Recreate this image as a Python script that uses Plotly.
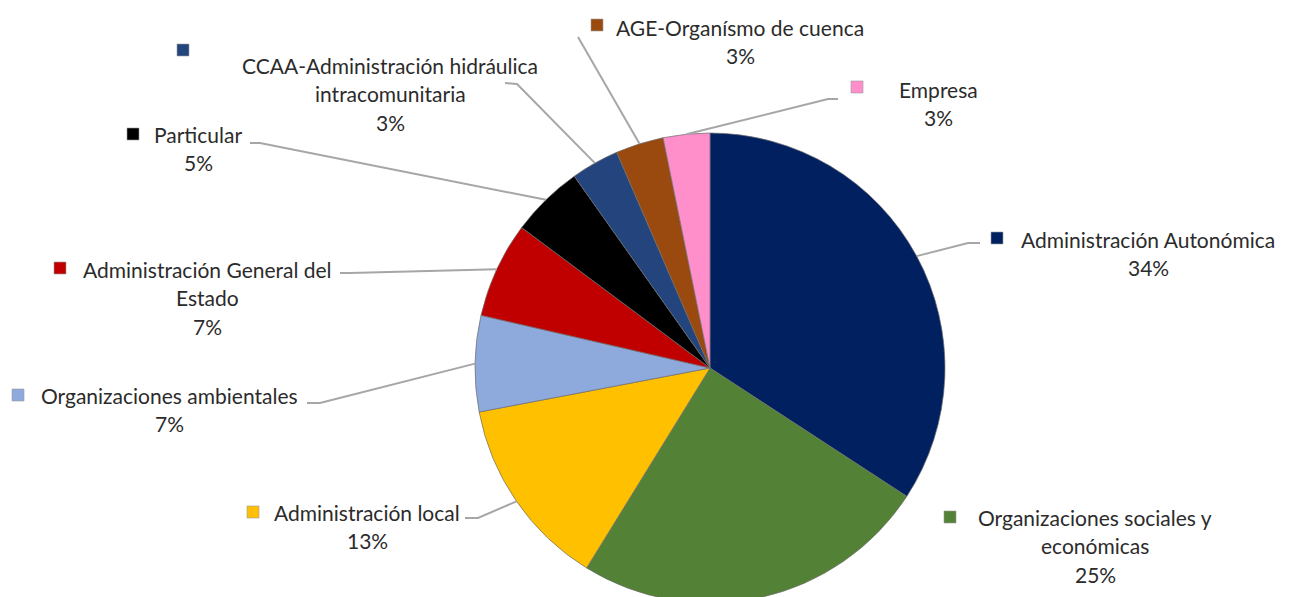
import math
import plotly.graph_objects as go

W, H = 1289, 597
OFF = 8  # page body margin: the figure is drawn 8px right/down of the window corner

# data (clockwise from 12 o'clock)
names = ["Administración Autonómica", "Organizaciones sociales y económicas",
         "Administración local", "Organizaciones ambientales",
         "Administración General del Estado", "Particular",
         "CCAA-Administración hidráulica intracomunitaria",
         "AGE-Organísmo de cuenca", "Empresa"]
values = [34.2, 24.6, 13.2, 6.6, 6.6, 5.0, 3.3, 3.3, 3.2]
colors = ["#002060", "#538135", "#FFC000", "#8EA9DB", "#C00000",
          "#000000", "#23447C", "#9A4A0E", "#FF8FCB"]

# how each label wraps
wrapped = [["Administración Autonómica"],
           ["Organizaciones sociales y", "económicas"],
           ["Administración local"],
           ["Organizaciones ambientales"],
           ["Administración General del", "Estado"],
           ["Particular"],
           ["CCAA-Administración hidráulica", "intracomunitaria"],
           ["AGE-Organísmo de cuenca"],
           ["Empresa"]]

# label layout in window pixels: text centre x, first line y, legend-key square,
# leader line end near text and elbow
lab_pos = [(1148, 239), (1095, 517), (367, 512), (169, 395), (207, 269),
           (198, 134), (390, 65), (740, 27), (938, 89)]
key_pos = [(997, 238), (950, 517), (253, 512), (18, 395), (60, 268),
           (133, 134), (183, 50), (597, 25), (857, 87)]
lead = [((980, 243), (968, 243)), None, ((465, 518), (478, 518)),
        ((307, 403), (320, 403)), ((340, 273), (350, 273)),
        ((250, 143), (260, 143)), ((505, 83), (517, 84)),
        ((578, 37), (578, 37)), ((838, 99), (828, 99))]

# pie geometry (window pixels)
r = 235
cx, cy = 710, 368
fx, fy = cx - OFF, cy - OFF
dom_x = [(fx - r) / W, (fx + r) / W]
dom_y = [(H - (fy + r)) / H, (H - (fy - r)) / H]

fig = go.Figure()
fig.add_trace(go.Pie(labels=names, values=values, sort=False, direction="clockwise",
                     rotation=0, textinfo="none", hoverinfo="label+percent",
                     marker=dict(colors=colors, line=dict(color="rgba(110,110,110,0.7)", width=1)),
                     domain=dict(x=dom_x, y=dom_y), showlegend=False))

# invisible pixel axes for labels / lines
fig.add_trace(go.Scatter(x=[OFF, W + OFF], y=[OFF, H + OFF], mode="markers",
                         marker=dict(opacity=0), hoverinfo="skip", showlegend=False))

total = sum(values)
shapes = []
annotations = []
cum = 0
font = dict(family="Lato, Open Sans, sans-serif", size=21, color="#2b2b2b")
for i, v in enumerate(values):
    mid = (cum + v / 2) / total * 2 * math.pi
    cum += v
    ex, ey = cx + r * math.sin(mid), cy - r * math.cos(mid)
    if lead[i] is not None:
        (x0, y0), (x1, y1) = lead[i]
        shapes.append(dict(type="path", xref="x", yref="y",
                           path=f"M {x0},{y0} L {x1},{y1} L {ex:.1f},{ey:.1f}",
                           line=dict(color="#A6A6A6", width=2)))
    kx, ky = key_pos[i]
    shapes.append(dict(type="rect", xref="x", yref="y", x0=kx - 6, x1=kx + 6,
                       y0=ky - 6, y1=ky + 6, fillcolor=colors[i],
                       line=dict(color="#9a9a9a", width=0.6)))
    lx, ly = lab_pos[i]
    pct = int(v / total * 100 + 0.5)
    lines = wrapped[i] + [f"{pct}%"]
    for j, t in enumerate(lines):
        annotations.append(dict(x=lx, y=ly + j * 28.5, xref="x", yref="y", text=t,
                                showarrow=False, xanchor="center", yanchor="middle",
                                font=font))

fig.update_layout(
    width=W, height=H,
    margin=dict(l=0, r=0, t=0, b=0),
    paper_bgcolor="white", plot_bgcolor="rgba(0,0,0,0)",
    xaxis=dict(range=[OFF, W + OFF], visible=False, fixedrange=True),
    yaxis=dict(range=[H + OFF, OFF], visible=False, fixedrange=True),
    shapes=shapes, annotations=annotations,
)

fig.write_html("out.html")
